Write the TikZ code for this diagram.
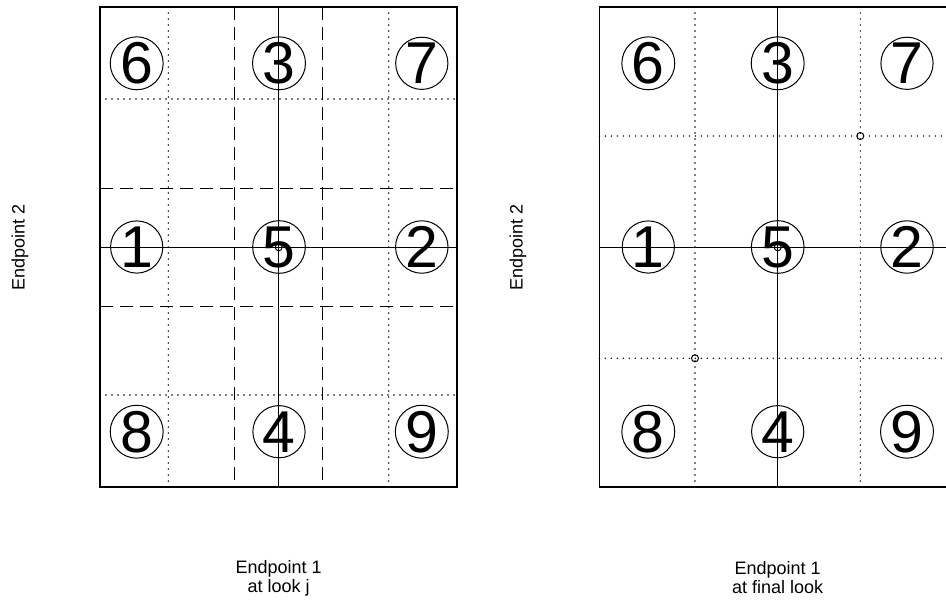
\documentclass[tikz,border=0pt]{standalone}
\usepackage{fontspec}
\setmainfont{Liberation Sans}
\usepackage{xcolor}
\usetikzlibrary{positioning}

\tikzset{
  ring/.style={draw, circle, line width=1pt, minimum size=50pt, inner sep=0pt,
               font=\fontsize{59}{59}\selectfont},
  hit/.style={draw, circle, line width=1pt, minimum size=7pt, inner sep=0pt},
  solidline/.style={line width=1.5pt},
  dashline/.style={line width=1.5pt, dash pattern=on 13pt off 7pt},
  dotline/.style={line width=1.6pt, line cap=round, dash pattern=on 0pt off 6pt},
  axislabel/.style={font=\fontsize{18}{19}\selectfont, align=center}
}

\begin{document}
\begin{tikzpicture}[x=1pt, y=-1pt]
  \clip (0,0) rectangle (946,606);

  % Left panel: box and boundaries at look j
  \draw[solidline] (100,7) rectangle (457,487);
  \foreach \x in {168.3, 388.7} {
      \draw[dotline] (\x,7) -- (\x,487);
  }
  \foreach \y in {99, 395} {
      \draw[dotline] (100,\y) -- (457,\y);
  }
  \foreach \x in {234.3, 322.3} {
      \draw[dashline] (\x,7) -- (\x,487);
  }
  \foreach \y in {188.3, 306.7} {
      \draw[dashline] (100,\y) -- (457,\y);
  }
  \draw[solidline] (278.7,7) -- (278.7,487);
  \draw[solidline] (100,247.3) -- (457,247.3);
  \node[hit] (lmid) at (278.7,247.3) {};

  % Left panel: regions
  \foreach \n/\x/\y in {6/136.7/63.3, 3/279/63.3, 7/421.8/63.3,
                        1/136.7/247, 5/279/247, 2/421.8/247,
                        8/136.7/431.7, 4/279/431.7, 9/421.8/431.7} {
      \node[ring] (l\n) at (\x,\y) {\n};
  }

  % Right panel: box and boundaries at final look
  \draw[solidline] (599.3,7) rectangle (956,487);
  \foreach \x in {695, 860.3} {
      \draw[dotline] (\x,7) -- (\x,487);
  }
  \foreach \y in {136, 358.3} {
      \draw[dotline] (599.3,\y) -- (956,\y);
  }
  \draw[solidline] (777.7,7) -- (777.7,487);
  \draw[solidline] (599.3,247.3) -- (956,247.3);
  \node[hit] (rmid) at (777.7,247.3) {};
  \node[hit] (rup) at (860.3,136) {};
  \node[hit] (rlow) at (695,358.3) {};

  % Right panel: regions
  \foreach \n/\x/\y in {6/648.3/63.3, 3/777.7/63.3, 7/907/63.3,
                        1/648.3/247, 5/777.7/247, 2/907/247,
                        8/648.3/431.7, 4/777.7/431.7, 9/907/431.7} {
      \node[ring] (r\n) at (\x,\y) {\n};
  }

  % Axis labels
  \node[axislabel, rotate=90] (ly) at (20,247) {Endpoint 2};
  \node[axislabel] (lx) at (278.7,578) {Endpoint 1\\at look j};
  \node[axislabel, rotate=90] (ry) at (518,247) {Endpoint 2};
  \node[axislabel] (rx) at (777.7,578) {Endpoint 1\\at final look};
\end{tikzpicture}
\end{document}
